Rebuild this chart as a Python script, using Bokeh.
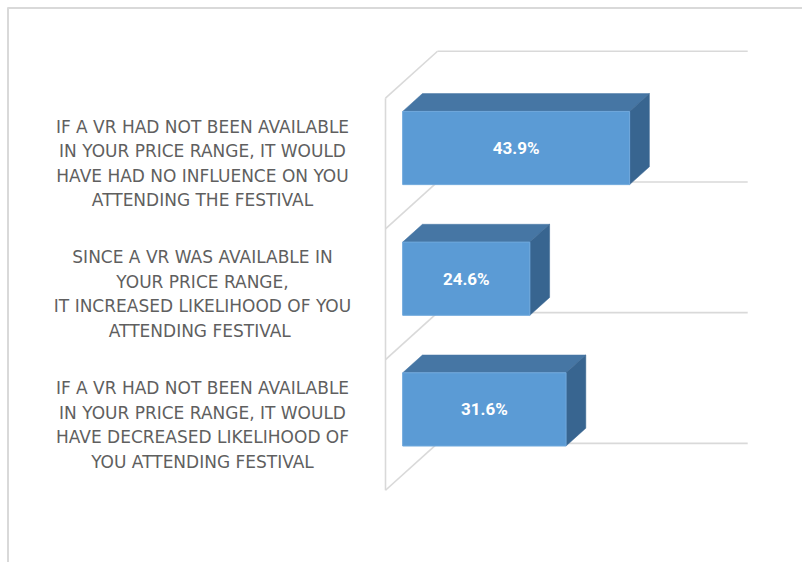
from bokeh.plotting import figure
from bokeh.models import Range1d, ColumnDataSource
from bokeh.core.properties import value
from bokeh.embed import file_html
from bokeh.resources import INLINE

# ---------------- data ----------------
label_lines = [
    ["IF A VR HAD NOT BEEN AVAILABLE", "IN YOUR PRICE RANGE, IT WOULD",
     "HAVE HAD NO INFLUENCE ON YOU", "ATTENDING THE FESTIVAL"],
    ["SINCE A VR WAS AVAILABLE IN", "YOUR PRICE RANGE,",
     "IT INCREASED LIKELIHOOD OF YOU", "ATTENDING  FESTIVAL"],
    ["IF A VR HAD NOT BEEN AVAILABLE", "IN YOUR PRICE RANGE, IT WOULD",
     "HAVE DECREASED LIKELIHOOD OF", "YOU ATTENDING FESTIVAL"],
]
values = [43.9, 24.6, 31.6]
value_labels = ["43.9%", "24.6%", "31.6%"]
axis_max = 60

# ---------------- geometry (3D projection) ----------------
W, H = 802, 562
PX_PER_X = 5.17      # px per percent
PX_PER_Y = 130.7     # px per category slot
X0_PX = 385.0        # pixel of value 0 at front plane
Y0_PX = 424.4        # pixel of lowest category centre at front plane
DX = 10.06           # depth shift (percent units) for full depth
DY = 0.359           # depth shift (slot units) for full depth
D_FRONT, D_BACK = 0.33, 0.71
HALF = 0.28

def px_x(px):
    return (px - X0_PX) / PX_PER_X

def px_y(py):
    return (Y0_PX - py) / PX_PER_Y

n = len(values)
cpos = [n - 1 - i for i in range(n)]

p = figure(width=W, height=H, output_backend="svg", toolbar_location=None,
           x_range=Range1d(px_x(0), px_x(W)), y_range=Range1d(px_y(H), px_y(0)),
           min_border=0, outline_line_color=None)
p.xaxis.visible = False
p.yaxis.visible = False
p.grid.visible = False
p.background_fill_color = "white"
p.border_fill_color = "white"

GRID = "#D9D9D9"

# outer chart-area border (left and top)
p.segment(x0=[px_x(7.5), px_x(7)], y0=[px_y(7), px_y(7.5)],
          x1=[px_x(7.5), px_x(W)], y1=[px_y(H), px_y(7.5)],
          line_color=GRID, line_width=2)

# walls / gridlines
bounds = [c - 0.5 for c in cpos] + [max(cpos) + 0.5]
p.segment(x0=[DX] * len(bounds), y0=[b + DY for b in bounds],
          x1=[axis_max + DX] * len(bounds), y1=[b + DY for b in bounds],
          line_color=GRID, line_width=1.6)
p.segment(x0=[0] * len(bounds), y0=bounds,
          x1=[DX] * len(bounds), y1=[b + DY for b in bounds],
          line_color=GRID, line_width=1.6)
p.segment(x0=[0], y0=[min(bounds)], x1=[0], y1=[max(bounds)],
          line_color=GRID, line_width=1.6)

# bars
fxs, fys, txs, tys, sxs, sys_ = [], [], [], [], [], []
for v, c in zip(values, cpos):
    fx, fy = DX * D_FRONT, DY * D_FRONT
    bx, by = DX * D_BACK, DY * D_BACK
    fxs.append([fx, fx + v, fx + v, fx])
    fys.append([c - HALF + fy, c - HALF + fy, c + HALF + fy, c + HALF + fy])
    txs.append([fx, fx + v, bx + v, bx])
    tys.append([c + HALF + fy, c + HALF + fy, c + HALF + by, c + HALF + by])
    sxs.append([fx + v, bx + v, bx + v, fx + v])
    sys_.append([c + HALF + fy, c + HALF + by, c - HALF + by, c - HALF + fy])

p.patches(xs=txs, ys=tys, fill_color="#4676A4", line_color="#4676A4", line_width=0.5)
p.patches(xs=sxs, ys=sys_, fill_color="#386590", line_color="#386590", line_width=0.5)
p.patches(xs=fxs, ys=fys, fill_color="#5B9BD5", line_color="#6FA8DC", line_width=1)

# value labels
vsrc = ColumnDataSource(dict(
    x=[v / 2 + DX * D_FRONT for v in values],
    y=[c + DY * D_FRONT for c in cpos],
    t=value_labels))
p.text(x="x", y="y", text="t", source=vsrc, text_align="center",
       text_baseline="middle", text_color="white",
       text_font=value("Roboto"), text_font_style="bold",
       text_font_size="17px")

# category labels (one text row per line)
LINE = 24.5 / PX_PER_Y
lx, ly, lt = [], [], []
for lines, c in zip(label_lines, cpos):
    k = len(lines)
    for j, line in enumerate(lines):
        lx.append(px_x(202))
        ly.append(c + ((k - 1) / 2 - j) * LINE)
        lt.append(line)
lsrc = ColumnDataSource(dict(x=lx, y=ly, t=lt))
p.text(x="x", y="y", text="t", source=lsrc, text_align="center",
       text_baseline="middle", text_color="#5f5f5f",
       text_font=value("DejaVu Sans"), text_font_size="17px")

open("out.html", "w").write(file_html(p, INLINE))
